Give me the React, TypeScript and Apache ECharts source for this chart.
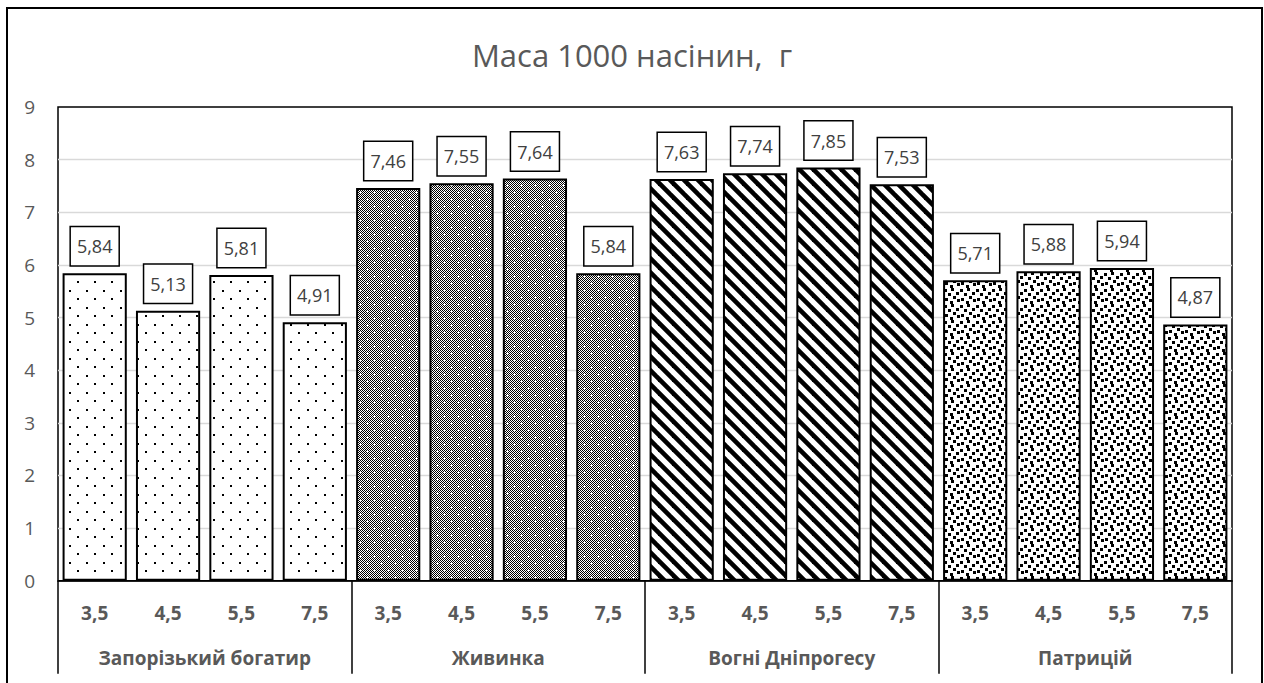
import React, { useEffect, useRef } from "react";
import * as echarts from "echarts";

const TITLE = "Маса 1000 насінин,  г";
const DOSES = ["3,5", "4,5", "5,5", "7,5"];
const GROUPS = ["Запорізький богатир", "Живинка", "Вогні Дніпрогесу", "Патрицій"];
const ZAPORIZKYI = [5.84, 5.13, 5.81, 4.91];
const ZHYVYNKA = [7.46, 7.55, 7.64, 5.84];
const VOHNI = [7.63, 7.74, 7.85, 7.53];
const PATRYTSII = [5.71, 5.88, 5.94, 4.87];
const Y_MIN = 0;
const Y_MAX = 9;
const Y_STEP = 1;

const FONT = "'Open Sans', 'DejaVu Sans', sans-serif";

function makeCanvas(w: number, h: number, draw: (ctx: CanvasRenderingContext2D) => void) {
  const c = document.createElement("canvas");
  c.width = w;
  c.height = h;
  const ctx = c.getContext("2d") as CanvasRenderingContext2D;
  ctx.fillStyle = "#fff";
  ctx.fillRect(0, 0, w, h);
  draw(ctx);
  return c;
}

function dotsPattern() {
  return makeCanvas(17, 17, (ctx) => {
    ctx.fillStyle = "#000";
    ctx.fillRect(1, 1, 2, 2);
    ctx.fillRect(9, 9, 2, 2);
  });
}

function checkerPattern() {
  return makeCanvas(14, 14, (ctx) => {
    ctx.fillStyle = "#000";
    for (let y = 0; y < 14; y++) {
      for (let x = 0; x < 14; x++) {
        if ((x + y) % 2 === 0) ctx.fillRect(x, y, 1, 1);
      }
    }
    ctx.fillStyle = "#fff";
    const crosses = [
      [3, 3],
      [10, 10],
    ];
    for (const [cx, cy] of crosses) {
      ctx.fillRect(cx - 1, cy, 3, 1);
      ctx.fillRect(cx, cy - 1, 1, 3);
    }
  });
}

function stripePattern() {
  return makeCanvas(14, 14, (ctx) => {
    ctx.strokeStyle = "#000";
    ctx.lineWidth = 4.6;
    for (const off of [-14, 0, 14]) {
      ctx.beginPath();
      ctx.moveTo(off - 3, -3);
      ctx.lineTo(off + 17, 17);
      ctx.stroke();
    }
  });
}

function confettiPattern() {
  return makeCanvas(16, 16, (ctx) => {
    ctx.fillStyle = "#000";
    const sq = [
      [0, 1],
      [7, 0],
      [12, 4],
      [4, 5],
      [9, 8],
      [1, 10],
      [13, 11],
      [6, 13],
    ];
    for (const [x, y] of sq) ctx.fillRect(x, y, 3, 3);
  });
}

export default function App() {
  const ref = useRef<HTMLDivElement>(null);

  useEffect(() => {
    if (!ref.current) return;
    const chart = echarts.init(ref.current, null, { renderer: "svg" });

    const groupValues = [ZAPORIZKYI, ZHYVYNKA, VOHNI, PATRYTSII];
    const patterns = [dotsPattern(), checkerPattern(), stripePattern(), confettiPattern()];

    const categories: string[] = [];
    const data: any[] = [];
    groupValues.forEach((vals, gi) => {
      vals.forEach((v, i) => {
        categories.push(DOSES[i]);
        data.push({
          value: v,
          itemStyle: {
            color: { image: patterns[gi], repeat: "repeat" },
            borderColor: "#000",
            borderWidth: 2,
          },
        });
      });
    });

    chart.setOption({
      animation: false,
      backgroundColor: "#fff",
      title: {
        text: TITLE,
        left: "center",
        top: 39,
        padding: 0,
        textStyle: {
          fontFamily: FONT,
          fontSize: 31,
          fontWeight: "normal",
          color: "#595959",
        },
      },
      graphic: [
        {
          type: "rect",
          shape: { x: 7, y: 8, width: 1255, height: 684 },
          style: { fill: "none", stroke: "#000", lineWidth: 2 },
          silent: true,
        },
      ],
      grid: {
        left: 58,
        top: 107,
        right: 32,
        bottom: 102.3,
        show: true,
        borderColor: "#000",
        borderWidth: 1.5,
        containLabel: false,
      },
      xAxis: [
        {
          type: "category",
          data: categories,
          position: "bottom",
          axisLine: { show: true, lineStyle: { color: "#000", width: 1.5 } },
          axisTick: { show: false },
          axisLabel: {
            interval: 0,
            margin: 23,
            fontFamily: FONT,
            fontSize: 19,
            fontWeight: "bold",
            color: "#595959",
          },
        },
        {
          type: "category",
          data: GROUPS,
          position: "bottom",
          axisLine: { show: false },
          axisTick: {
            show: true,
            interval: 0,
            length: 93,
            lineStyle: { color: "#000", width: 1.5 },
          },
          axisLabel: {
            interval: 0,
            margin: 68,
            fontFamily: FONT,
            fontSize: 19,
            fontWeight: "bold",
            color: "#595959",
          },
        },
      ],
      yAxis: {
        type: "value",
        min: Y_MIN,
        max: Y_MAX,
        interval: Y_STEP,
        axisLine: { show: false },
        axisTick: { show: false },
        axisLabel: {
          margin: 23,
          fontFamily: FONT,
          fontSize: 19,
          color: "#595959",
        },
        splitLine: {
          show: true,
          showMinLine: false,
          showMaxLine: false,
          lineStyle: { color: "#d9d9d9", width: 1.3 },
        },
      },
      series: [
        {
          type: "bar",
          xAxisIndex: 0,
          data,
          barCategoryGap: "12.5%",
          label: {
            show: true,
            position: "top",
            distance: 8,
            formatter: (p: any) => Number(p.value).toFixed(2).replace(".", ","),
            fontFamily: FONT,
            fontSize: 18,
            lineHeight: 18,
            color: "#404040",
            backgroundColor: "#fff",
            borderColor: "#000",
            borderWidth: 1.5,
            padding: [10, 6],
          },
        },
      ],
    });

    return () => chart.dispose();
  }, []);

  return (
    <div
      ref={ref}
      style={{ position: "absolute", left: 0, top: 0, width: 1264, height: 683 }}
    />
  );
}
